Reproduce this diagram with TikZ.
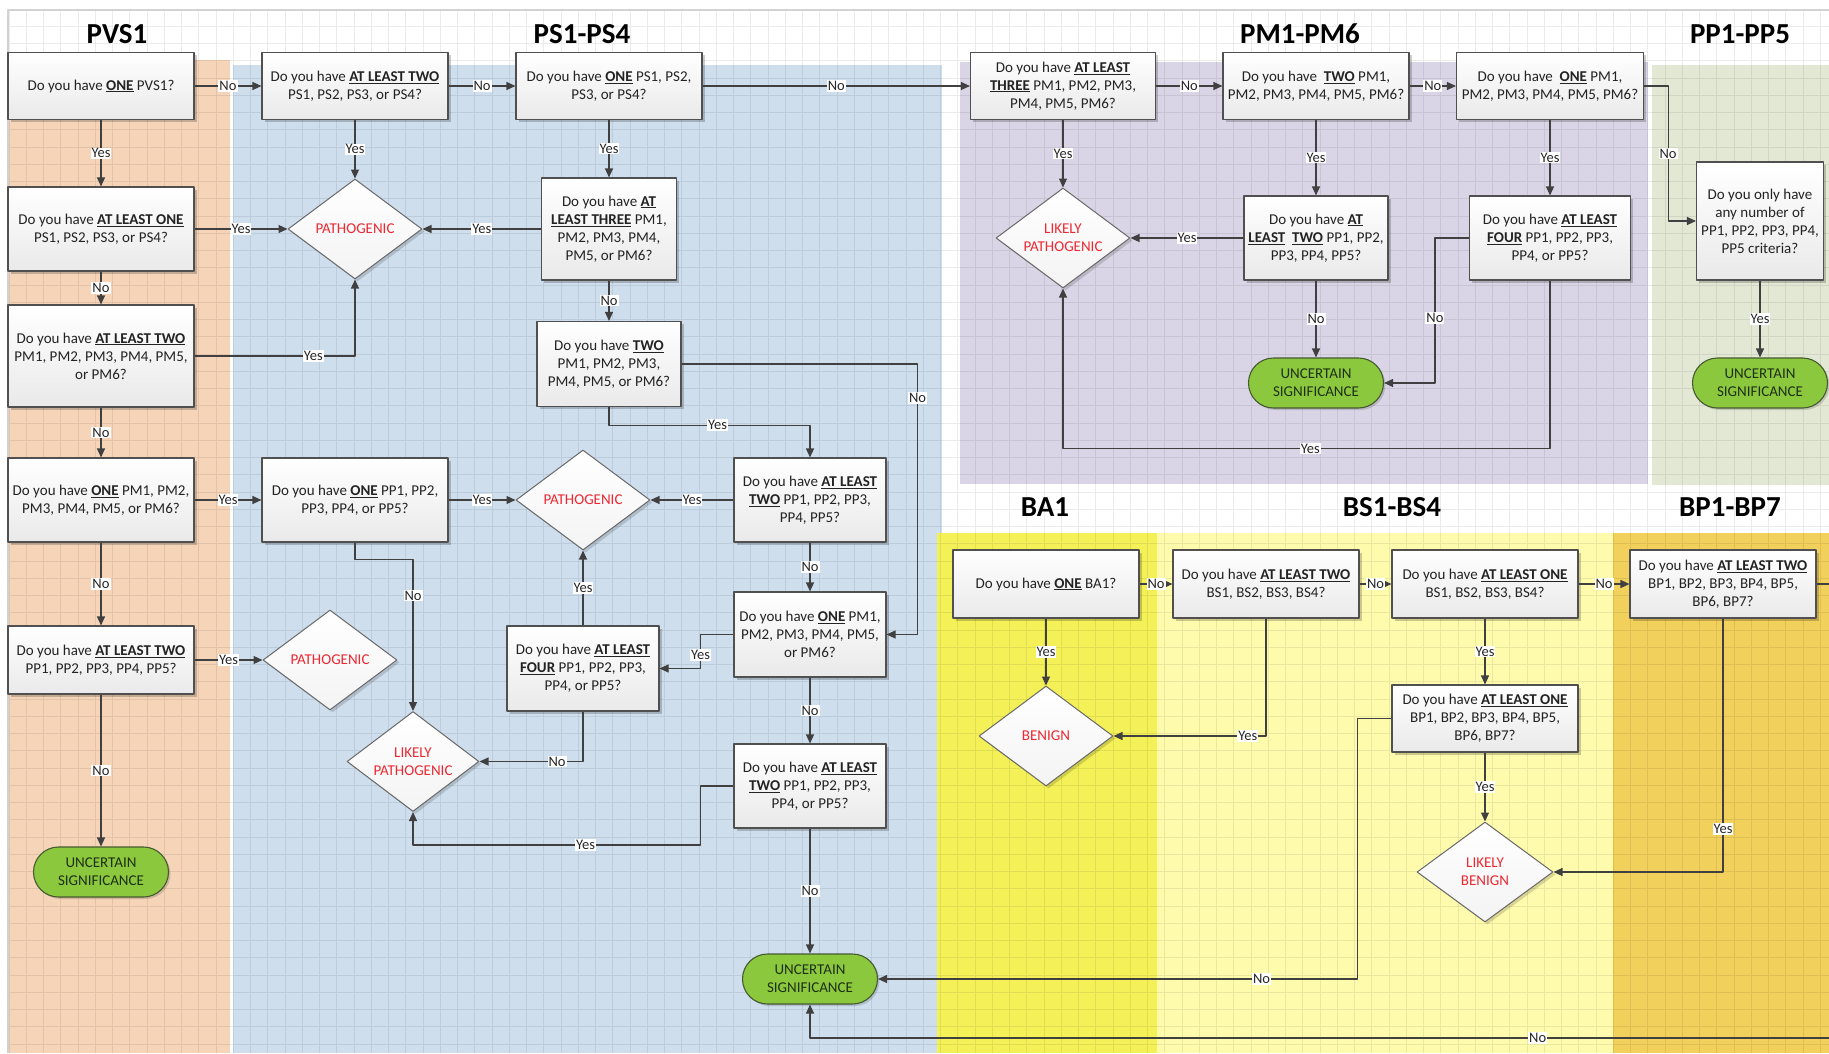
\documentclass[tikz,border=0pt]{standalone}
\usepackage{fontspec}
\setmainfont{Carlito}
\usepackage{tikz}
\usetikzlibrary{arrows.meta}
\usetikzlibrary{shapes.geometric}
\usetikzlibrary{shadows}

\newcommand{\kw}[1]{\underline{\textbf{#1}}}
\newcommand{\boxtextfont}{\fontsize{15}{18}\selectfont}
\newcommand{\answerfont}{\fontsize{14.5}{16}\selectfont}
\newcommand{\lanefont}{\fontsize{29}{32}\selectfont\bfseries}

\begin{document}
\begin{tikzpicture}
	[x=1pt,y=-1pt,line join=round,
	%Styles
	>={Triangle[length=9pt,width=8pt]},
	flow/.style={->,line width=1.1pt,draw=linecolor},
	question/.style 2 args={rectangle,draw=boxborder,line width=1.1pt,top color=white,bottom color=gray!17,
		align=center,inner sep=2pt,font=\boxtextfont,text=boxtext,minimum width=#1pt,minimum height=#2pt,
		drop shadow={shadow xshift=2.5pt,shadow yshift=-2.5pt,opacity=.2,fill=black}},
	outcome/.style={diamond,aspect=1.34,draw=diamondborder,line width=1pt,top color=white,bottom color=gray!9,
		align=center,inner sep=0pt,font=\boxtextfont,text=outcomered,minimum width=134pt,minimum height=100pt,
		drop shadow={shadow xshift=2.5pt,shadow yshift=-2.5pt,opacity=.15,fill=black}},
	uncertain/.style={rectangle,rounded corners=25pt,draw=pillborder,line width=1.1pt,fill=pillgreen,
		align=center,inner sep=1pt,font=\boxtextfont,text=pilltext,minimum width=135pt,minimum height=50pt,
		drop shadow={shadow xshift=2pt,shadow yshift=-2pt,opacity=.15,fill=black}},
	answer/.style={fill=white,inner sep=1pt,font=\answerfont,text=black!85},
	lane title/.style={font=\lanefont,text=black}
	]
	
	%Colors
	\definecolor{linecolor}{RGB}{64,64,64}
	\definecolor{boxborder}{RGB}{80,80,80}
	\definecolor{boxtext}{RGB}{35,35,35}
	\definecolor{diamondborder}{RGB}{105,105,105}
	\definecolor{outcomered}{RGB}{238,40,50}
	\definecolor{pillgreen}{RGB}{140,200,62}
	\definecolor{pillborder}{RGB}{70,90,50}
	\definecolor{pilltext}{RGB}{30,48,20}
	\definecolor{pvsband}{RGB}{246,212,184}
	\definecolor{psband}{RGB}{206,222,237}
	\definecolor{pmband}{RGB}{218,213,230}
	\definecolor{ppband}{RGB}{227,232,212}
	\definecolor{baband}{RGB}{243,240,88}
	\definecolor{bsband}{RGB}{254,251,172}
	\definecolor{bpband}{RGB}{241,208,92}
	
	\useasboundingbox (0,0) rectangle (1829,1053);
	
	%Lanes
	\fill[pvsband] (8,60) rectangle (230,1053);
	\fill[psband] (233,65) rectangle (942,1053);
	\fill[pmband] (960,62) rectangle (1648,484);
	\fill[ppband] (1652,65) rectangle (1829,485);
	\fill[baband] (937,533) rectangle (1157,1053);
	\fill[bsband] (1157,533) rectangle (1613,1053);
	\fill[bpband] (1613,533) rectangle (1829,1053);
	
	%Grid
	\begin{scope}[shift={(9,9)}]
		\draw[black,opacity=.08,line width=.6pt,xstep=17.25pt,ystep=17.25pt] (-1,1) grid (1820,1044);
	\end{scope}
	\draw[gray!35,line width=1.5pt] (8,1053) -- (8,10) -- (1829,10);
	
	%Lane titles
	\node[lane title] (pvstitle) at (117,34) {PVS1};
	\node[lane title] (pstitle) at (582,34) {PS1-PS4};
	\node[lane title] (pmtitle) at (1300,34) {PM1-PM6};
	\node[lane title] (pptitle) at (1740,34) {PP1-PP5};
	\node[lane title] (batitle) at (1045,507) {BA1};
	\node[lane title] (bstitle) at (1392,507) {BS1-BS4};
	\node[lane title] (bptitle) at (1730,507) {BP1-BP7};
	
	%PVS1
	\node[question={186}{67}] (a1) at (101,86) {Do you have \kw{ONE} PVS1?};
	\node[question={186}{84}] (a2) at (101,229) {Do you have \kw{AT LEAST ONE}\\PS1, PS2, PS3, or PS4?};
	\node[question={186}{102}] (a3) at (101,356) {Do you have \kw{AT LEAST TWO}\\PM1, PM2, PM3, PM4, PM5,\\or PM6?};
	\node[question={186}{84}] (a4) at (101,500) {Do you have \kw{ONE} PM1, PM2,\\PM3, PM4, PM5, or PM6?};
	\node[question={186}{68}] (a5) at (101,660) {Do you have \kw{AT LEAST TWO}\\PP1, PP2, PP3, PP4, PP5?};
	\node[uncertain] (us1) at (101,872) {UNCERTAIN\\SIGNIFICANCE};
	
	%PS1-PS4
	\node[question={186}{67}] (b1) at (355,86) {Do you have \kw{AT LEAST TWO}\\PS1, PS2, PS3, or PS4?};
	\node[outcome] (p1) at (355,229) {PATHOGENIC};
	\node[question={186}{84}] (b2) at (355,500) {Do you have \kw{ONE} PP1, PP2,\\PP3, PP4, or PP5?};
	\node[outcome] (p3) at (330,660) {PATHOGENIC};
	\node[outcome,minimum width=132pt] (lp2) at (413,761.5) {LIKELY\\PATHOGENIC};
	
	\node[question={186}{67}] (c1) at (609,86) {Do you have \kw{ONE} PS1, PS2,\\PS3, or PS4?};
	\node[question={135}{102}] (c2) at (609,229) {Do you have \kw{AT}\\\kw{LEAST THREE} PM1,\\PM2, PM3, PM4,\\PM5, or PM6?};
	\node[question={144}{85}] (c3) at (609,364) {Do you have \kw{TWO}\\PM1, PM2, PM3,\\PM4, PM5, or PM6?};
	\node[outcome] (p2) at (583,500) {PATHOGENIC};
	\node[question={152}{85}] (c6) at (583,668.5) {Do you have \kw{AT LEAST}\\\kw{FOUR} PP1, PP2, PP3,\\PP4, or PP5?};
	
	\node[question={152}{84}] (c4) at (810,500) {Do you have \kw{AT LEAST}\\\kw{TWO} PP1, PP2, PP3,\\PP4, PP5?};
	\node[question={152}{85}] (c5) at (810,634.5) {Do you have \kw{ONE} PM1,\\PM2, PM3, PM4, PM5,\\or PM6?};
	\node[question={152}{84}] (c7) at (810,786) {Do you have \kw{AT LEAST}\\\kw{TWO} PP1, PP2, PP3,\\PP4, or PP5?};
	\node[uncertain] (us4) at (810,979) {UNCERTAIN\\SIGNIFICANCE};
	
	%PM1-PM6
	\node[question={185}{67}] (d1) at (1063,86) {Do you have \kw{AT LEAST}\\\kw{THREE} PM1, PM2, PM3,\\PM4, PM5, PM6?};
	\node[outcome] (lp1) at (1063,238) {LIKELY\\PATHOGENIC};
	\node[question={186}{67}] (d2) at (1316,86) {Do you have\ \ \kw{TWO} PM1,\\PM2, PM3, PM4, PM5, PM6?};
	\node[question={144}{84}] (d4) at (1316,238) {Do you have \kw{AT}\\\kw{LEAST}\ \ \kw{TWO} PP1, PP2,\\PP3, PP4, PP5?};
	\node[uncertain] (us2) at (1316,383) {UNCERTAIN\\SIGNIFICANCE};
	\node[question={187}{67}] (d3) at (1550,86) {Do you have\ \ \kw{ONE} PM1,\\PM2, PM3, PM4, PM5, PM6?};
	\node[question={161}{84}] (d5) at (1550,238) {Do you have \kw{AT LEAST}\\\kw{FOUR} PP1, PP2, PP3,\\PP4, or PP5?};
	
	%PP1-PP5
	\node[question={127}{118}] (e1) at (1760,221) {Do you only have\\any number of\\PP1, PP2, PP3, PP4,\\PP5 criteria?};
	\node[uncertain] (us3) at (1760,383) {UNCERTAIN\\SIGNIFICANCE};
	
	%BA1, BS1-BS4, BP1-BP7
	\node[question={186}{68}] (f1) at (1046,584) {Do you have \kw{ONE} BA1?};
	\node[outcome] (ben) at (1046,736) {BENIGN};
	\node[question={186}{68}] (g1) at (1266,584) {Do you have \kw{AT LEAST TWO}\\BS1, BS2, BS3, BS4?};
	\node[question={186}{68}] (g2) at (1485,584) {Do you have \kw{AT LEAST ONE}\\BS1, BS2, BS3, BS4?};
	\node[question={186}{67}] (g3) at (1485,718.5) {Do you have \kw{AT LEAST ONE}\\BP1, BP2, BP3, BP4, BP5,\\BP6, BP7?};
	\node[outcome,minimum width=136pt] (lb) at (1485,872) {LIKELY\\BENIGN};
	\node[question={186}{68}] (g4) at (1723,584) {Do you have \kw{AT LEAST TWO}\\BP1, BP2, BP3, BP4, BP5,\\BP6, BP7?};
	
	%Pathogenic side
	\draw[flow] (a1) -- node[answer] {No} (b1);
	\draw[flow] (b1) -- node[answer] {No} (c1);
	\draw[flow] (c1) -- node[answer] {No} (d1);
	\draw[flow] (d1) -- node[answer] {No} (d2);
	\draw[flow] (d2) -- node[answer] {No} (d3);
	\draw[flow] (d3.east) -- ++(24,0) |- node[answer,pos=.25] {No} (e1.west);
	
	\draw[flow] (a1) -- node[answer] {Yes} (a2);
	\draw[flow] (a2) -- node[answer] {Yes} (p1);
	\draw[flow] (a2) -- node[answer] {No} (a3);
	\draw[flow] (a3.east) -| node[answer,pos=.37] {Yes} (p1.south);
	\draw[flow] (b1) -- node[answer] {Yes} (p1);
	\draw[flow] (c2) -- node[answer] {Yes} (p1);
	\draw[flow] (c1) -- node[answer] {Yes} (c2);
	\draw[flow] (c2) -- node[answer] {No} (c3);
	
	\draw[flow] (a3) -- node[answer] {No} (a4);
	\draw[flow] (a4) -- node[answer] {Yes} (b2);
	\draw[flow] (a4) -- node[answer] {No} (a5);
	\draw[flow] (a5) -- node[answer] {Yes} (p3);
	\draw[flow] (a5) -- node[answer] {No} (us1);
	\draw[flow] (b2) -- node[answer] {Yes} (p2);
	\draw[flow] (b2.south) -- ++(0,16.5) -| node[answer,pos=.62] {No} (lp2.north);
	
	\draw[flow] (c3.south) -- ++(0,18) -| node[answer,pos=.27] {Yes} (c4.north);
	\draw[flow] (c3.east) -- ++(236,0) |- node[answer,pos=.063] {No} (c5.east);
	\draw[flow] (c4) -- node[answer] {Yes} (p2);
	\draw[flow] (c4) -- node[answer] {No} (c5);
	\draw[flow] (c5.west) -- ++(-33,0) |- node[answer,pos=.3] {Yes} (c6.east);
	\draw[flow] (c6) -- node[answer] {Yes} (p2);
	\draw[flow] (c6.south) |- node[answer,pos=.625] {No} (lp2.east);
	\draw[flow] (c5) -- node[answer] {No} (c7);
	\draw[flow] (c7.west) -- ++(-33,0) -- ++(0,59) -| node[answer,pos=.2] {Yes} (lp2.south);
	\draw[flow] (c7) -- node[answer] {No} (us4);
	
	\draw[flow] (d1) -- node[answer] {Yes} (lp1);
	\draw[flow] (d2) -- node[answer] {Yes} (d4);
	\draw[flow] (d4) -- node[answer] {Yes} (lp1);
	\draw[flow] (d4) -- node[answer] {No} (us2);
	\draw[flow] (d3) -- node[answer] {Yes} (d5);
	\draw[flow] (d5.west) -- ++(-34,0) |- node[answer,pos=.276] {No} (us2.east);
	\draw[flow] (d5.south) -- ++(0,168) -| node[answer,pos=.246] {Yes} (lp1.south);
	\draw[flow] (e1) -- node[answer] {Yes} (us3);
	
	%Benign side
	\draw[flow] (f1) -- node[answer] {No} (g1);
	\draw[flow] (g1) -- node[answer] {No} (g2);
	\draw[flow] (g2) -- node[answer] {No} (g4);
	\draw[flow] (f1) -- node[answer] {Yes} (ben);
	\draw[flow] (g1.south) |- node[answer,pos=.56] {Yes} (ben.east);
	\draw[flow] (g2) -- node[answer] {Yes} (g3);
	\draw[flow] (g3) -- node[answer] {Yes} (lb);
	\draw[flow] (g3.west) -- ++(-34,0) |- node[answer,pos=.6] {No} (us4.east);
	\draw[flow] (g4.south) |- node[answer,pos=.415] {Yes} (lb.east);
	\draw[flow] (g4.east) -- ++(30,0) -- ++(0,454) -| node[answer,pos=.149] {No} (us4.south);
\end{tikzpicture}
\end{document}
